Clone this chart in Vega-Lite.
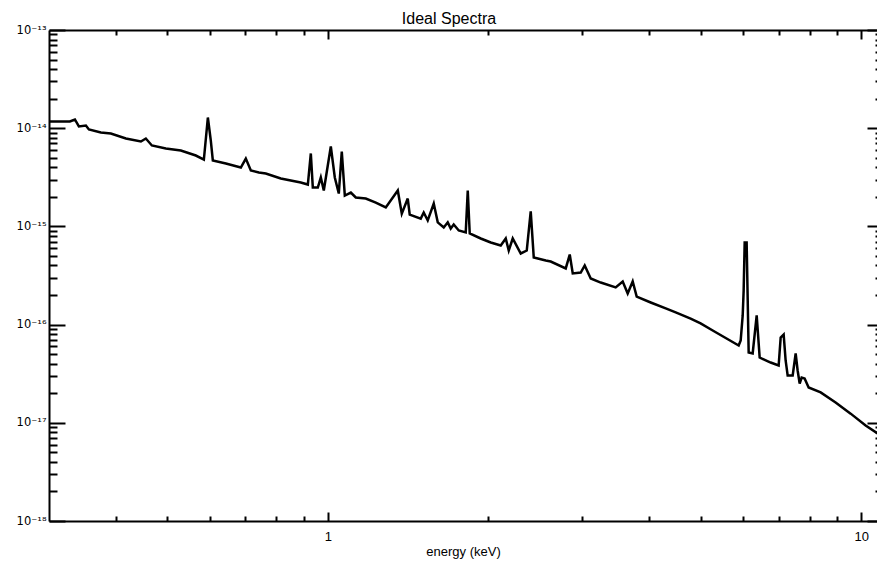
{
  "$schema": "https://vega.github.io/schema/vega-lite/v6.json",
  "width": 828,
  "height": 491,
  "autosize": {"type": "none"},
  "padding": {"left": 49, "top": 30, "right": 0, "bottom": 42},
  "background": "white",
  "title": {"text": "Ideal Spectra", "fontSize": 16, "fontWeight": "normal", "font": "Liberation Sans", "color": "black", "dx": -14, "offset": -3},
  "config": {
    "view": {"stroke": null},
    "axis": {"domainColor": "black", "domainWidth": 2, "tickColor": "black", "tickWidth": 2, "labelColor": "black", "titleColor": "black", "labelFont": "Liberation Sans", "titleFont": "Liberation Sans", "grid": false, "labelFontSize": 11, "titleFontSize": 13, "titleFontWeight": "normal"}
  },
  "data": {"values": [
    {"energy": 0.3012, "flux": 1.170e-14},
    {"energy": 0.3283, "flux": 1.170e-14},
    {"energy": 0.3355, "flux": 1.227e-14},
    {"energy": 0.3413, "flux": 1.041e-14},
    {"energy": 0.3518, "flux": 1.065e-14},
    {"energy": 0.3564, "flux": 9.70e-15},
    {"energy": 0.3753, "flux": 9.04e-15},
    {"energy": 0.3918, "flux": 8.83e-15},
    {"energy": 0.4181, "flux": 7.85e-15},
    {"energy": 0.4461, "flux": 7.32e-15},
    {"energy": 0.4557, "flux": 7.85e-15},
    {"energy": 0.4677, "flux": 6.67e-15},
    {"energy": 0.4968, "flux": 6.21e-15},
    {"energy": 0.5300, "flux": 5.93e-15},
    {"energy": 0.5654, "flux": 5.27e-15},
    {"energy": 0.5854, "flux": 4.80e-15},
    {"energy": 0.5956, "flux": 1.285e-14},
    {"energy": 0.6032, "flux": 7.49e-15},
    {"energy": 0.6085, "flux": 4.69e-15},
    {"energy": 0.6437, "flux": 4.37e-15},
    {"energy": 0.6867, "flux": 3.98e-15},
    {"energy": 0.7016, "flux": 4.91e-15},
    {"energy": 0.7170, "flux": 3.71e-15},
    {"energy": 0.7422, "flux": 3.54e-15},
    {"energy": 0.7648, "flux": 3.46e-15},
    {"energy": 0.8160, "flux": 3.08e-15},
    {"energy": 0.8895, "flux": 2.80e-15},
    {"energy": 0.9170, "flux": 2.67e-15},
    {"energy": 0.9289, "flux": 5.53e-15},
    {"energy": 0.9369, "flux": 2.49e-15},
    {"energy": 0.9574, "flux": 2.49e-15},
    {"energy": 0.9698, "flux": 3.15e-15},
    {"energy": 0.9824, "flux": 2.32e-15},
    {"energy": 1.0126, "flux": 6.51e-15},
    {"energy": 1.0302, "flux": 3.15e-15},
    {"energy": 1.0481, "flux": 2.16e-15},
    {"energy": 1.0617, "flux": 5.79e-15},
    {"energy": 1.0757, "flux": 2.06e-15},
    {"energy": 1.1040, "flux": 2.21e-15},
    {"energy": 1.1279, "flux": 1.97e-15},
    {"energy": 1.1776, "flux": 1.92e-15},
    {"energy": 1.2296, "flux": 1.75e-15},
    {"energy": 1.2838, "flux": 1.56e-15},
    {"energy": 1.3521, "flux": 2.32e-15},
    {"energy": 1.3756, "flux": 1.35e-15},
    {"energy": 1.4114, "flux": 1.92e-15},
    {"energy": 1.4236, "flux": 1.32e-15},
    {"energy": 1.4930, "flux": 1.20e-15},
    {"energy": 1.5123, "flux": 1.385e-15},
    {"energy": 1.5386, "flux": 1.15e-15},
    {"energy": 1.5791, "flux": 1.71e-15},
    {"energy": 1.6067, "flux": 1.10e-15},
    {"energy": 1.6488, "flux": 9.75e-16},
    {"energy": 1.6775, "flux": 1.10e-15},
    {"energy": 1.6993, "flux": 9.52e-16},
    {"energy": 1.7213, "flux": 1.045e-15},
    {"energy": 1.7590, "flux": 9.08e-16},
    {"energy": 1.8129, "flux": 8.67e-16},
    {"energy": 1.8288, "flux": 2.32e-15},
    {"energy": 1.8445, "flux": 8.47e-16},
    {"energy": 1.9343, "flux": 7.53e-16},
    {"energy": 2.0196, "flux": 6.86e-16},
    {"energy": 2.1086, "flux": 6.39e-16},
    {"energy": 2.1547, "flux": 7.53e-16},
    {"energy": 2.1827, "flux": 5.68e-16},
    {"energy": 2.2207, "flux": 7.53e-16},
    {"energy": 2.2988, "flux": 5.30e-16},
    {"energy": 2.3592, "flux": 5.68e-16},
    {"energy": 2.4000, "flux": 1.42e-15},
    {"energy": 2.4316, "flux": 4.83e-16},
    {"energy": 2.5610, "flux": 4.50e-16},
    {"energy": 2.6165, "flux": 4.39e-16},
    {"energy": 2.7916, "flux": 3.73e-16},
    {"energy": 2.8403, "flux": 5.17e-16},
    {"energy": 2.8774, "flux": 3.32e-16},
    {"energy": 2.9785, "flux": 3.39e-16},
    {"energy": 3.0300, "flux": 4.00e-16},
    {"energy": 3.1097, "flux": 2.95e-16},
    {"energy": 3.2467, "flux": 2.68e-16},
    {"energy": 3.4634, "flux": 2.39e-16},
    {"energy": 3.5700, "flux": 2.75e-16},
    {"energy": 3.6475, "flux": 2.07e-16},
    {"energy": 3.7272, "flux": 2.75e-16},
    {"energy": 3.7921, "flux": 1.93e-16},
    {"energy": 4.0285, "flux": 1.68e-16},
    {"energy": 4.2983, "flux": 1.46e-16},
    {"energy": 4.4875, "flux": 1.33e-16},
    {"energy": 4.7864, "flux": 1.15e-16},
    {"energy": 4.9970, "flux": 1.03e-16},
    {"energy": 5.2651, "flux": 8.71e-17},
    {"energy": 5.8898, "flux": 6.13e-17},
    {"energy": 5.9403, "flux": 6.89e-17},
    {"energy": 5.9925, "flux": 1.24e-16},
    {"energy": 6.0174, "flux": 2.23e-16},
    {"energy": 6.0438, "flux": 6.86e-16},
    {"energy": 6.0954, "flux": 6.86e-16},
    {"energy": 6.1221, "flux": 1.89e-16},
    {"energy": 6.1490, "flux": 5.20e-17},
    {"energy": 6.2561, "flux": 5.08e-17},
    {"energy": 6.3652, "flux": 1.24e-16},
    {"energy": 6.4477, "flux": 4.62e-17},
    {"energy": 6.7608, "flux": 4.11e-17},
    {"energy": 6.9984, "flux": 3.83e-17},
    {"energy": 7.0599, "flux": 7.39e-17},
    {"energy": 7.1515, "flux": 7.93e-17},
    {"energy": 7.2128, "flux": 4.31e-17},
    {"energy": 7.2761, "flux": 3.03e-17},
    {"energy": 7.4354, "flux": 3.03e-17},
    {"energy": 7.5318, "flux": 5.08e-17},
    {"energy": 7.5964, "flux": 3.41e-17},
    {"energy": 7.6631, "flux": 2.51e-17},
    {"energy": 7.7287, "flux": 2.89e-17},
    {"energy": 7.8291, "flux": 2.83e-17},
    {"energy": 7.9656, "flux": 2.29e-17},
    {"energy": 8.3909, "flux": 2.04e-17},
    {"energy": 8.9495, "flux": 1.61e-17},
    {"energy": 9.5499, "flux": 1.24e-17},
    {"energy": 10.188, "flux": 9.39e-18},
    {"energy": 10.727, "flux": 7.78e-18}
  ]},
  "layer": [
    {
      "mark": {"type": "line", "opacity": 0, "clip": true},
      "encoding": {
        "x": {"field": "energy", "type": "quantitative",
          "scale": {"type": "log", "domain": [0.3, 10.7], "nice": false},
          "axis": {"orient": "top", "title": null, "labels": false,
            "values": [0.4, 0.5, 0.6, 0.7, 0.8, 0.9, 1, 2, 3, 4, 5, 6, 7, 8, 9, 10],
            "tickSize": {"condition": {"test": "abs(log(datum.value)/LN10 - round(log(datum.value)/LN10)) < 0.001", "value": -9}, "value": -5}}},
        "y": {"field": "flux", "type": "quantitative",
          "scale": {"type": "log", "domain": [1e-18, 1e-13], "nice": false},
          "axis": {"orient": "right", "title": null, "labels": false, "offset": 6, "domain": false,
            "values": [1e-18, 2e-18, 3e-18, 4e-18, 5e-18, 6e-18, 7e-18, 8e-18, 9e-18, 1e-17, 2e-17, 3e-17, 4e-17, 5e-17, 6e-17, 7e-17, 8e-17, 9e-17, 1e-16, 2e-16, 3e-16, 4e-16, 5e-16, 6e-16, 7e-16, 8e-16, 9e-16, 1e-15, 2e-15, 3e-15, 4e-15, 5e-15, 6e-15, 7e-15, 8e-15, 9e-15, 1e-14, 2e-14, 3e-14, 4e-14, 5e-14, 6e-14, 7e-14, 8e-14, 9e-14, 1e-13],
            "tickSize": {"condition": {"test": "abs(log(datum.value)/LN10 - round(log(datum.value)/LN10)) < 0.001", "value": -16}, "value": -8}}}
      }
    },
    {
      "mark": {"type": "line", "color": "black", "strokeWidth": 2.5, "clip": true},
      "encoding": {
        "x": {"field": "energy", "type": "quantitative",
          "scale": {"type": "log", "domain": [0.3, 10.7], "nice": false},
          "axis": {"orient": "bottom", "title": "energy (keV)", "titlePadding": 2,
            "values": [0.4, 0.5, 0.6, 0.7, 0.8, 0.9, 1, 2, 3, 4, 5, 6, 7, 8, 9, 10],
            "labelExpr": "abs(log(datum.value)/LN10 - round(log(datum.value)/LN10)) < 0.001 ? '' + datum.value : ''",
            "labelPadding": 18,
            "labelFontSize": 13,
            "tickSize": {"condition": {"test": "abs(log(datum.value)/LN10 - round(log(datum.value)/LN10)) < 0.001", "value": -9}, "value": -5}}},
        "y": {"field": "flux", "type": "quantitative",
          "scale": {"type": "log", "domain": [1e-18, 1e-13], "nice": false},
          "axis": {"orient": "left", "title": null,
            "values": [1e-18, 2e-18, 3e-18, 4e-18, 5e-18, 6e-18, 7e-18, 8e-18, 9e-18, 1e-17, 2e-17, 3e-17, 4e-17, 5e-17, 6e-17, 7e-17, 8e-17, 9e-17, 1e-16, 2e-16, 3e-16, 4e-16, 5e-16, 6e-16, 7e-16, 8e-16, 9e-16, 1e-15, 2e-15, 3e-15, 4e-15, 5e-15, 6e-15, 7e-15, 8e-15, 9e-15, 1e-14, 2e-14, 3e-14, 4e-14, 5e-14, 6e-14, 7e-14, 8e-14, 9e-14, 1e-13],
            "labelExpr": "abs(log(datum.value)/LN10 - round(log(datum.value)/LN10)) < 0.001 ? '10' + replace(replace(replace(replace(replace(replace(replace(replace(toString(round(log(datum.value)/LN10)), '-', '⁻'), '1', '¹'), '3', '³'), '4', '⁴'), '5', '⁵'), '6', '⁶'), '7', '⁷'), '8', '⁸') : ''",
            "labelFont": "DejaVu Sans",
            "labelFontSize": 11.5,
            "labelPadding": 19,
            "labelBaseline": "middle",
            "tickSize": {"condition": {"test": "abs(log(datum.value)/LN10 - round(log(datum.value)/LN10)) < 0.001", "value": -16}, "value": -8}}}
      }
    }
  ],
  "resolve": {"axis": {"x": "independent", "y": "independent"}}
}
